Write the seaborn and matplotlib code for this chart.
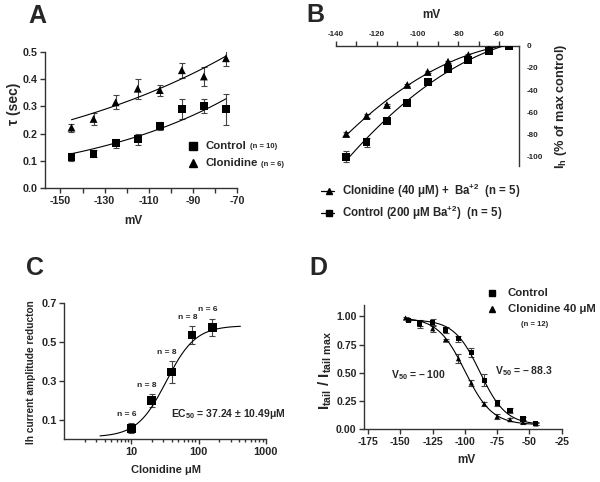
import numpy as np
import pandas as pd
import matplotlib
matplotlib.use("Agg")
import matplotlib.pyplot as plt
import seaborn as sns
from matplotlib.lines import Line2D
from matplotlib.ticker import FixedLocator, NullFormatter, LogLocator

# ---------------- data ----------------
# Panel A: activation time constant
a_mv = [-145, -135, -125, -115, -105, -95, -85, -75]
a_ctrl = [0.114, 0.126, 0.164, 0.179, 0.229, 0.290, 0.300, 0.289]
a_ctrl_err = [0.015, 0.013, 0.016, 0.020, 0.014, 0.038, 0.026, 0.057]
a_clon = [0.222, 0.254, 0.315, 0.365, 0.360, 0.433, 0.410, 0.477]
a_clon_err = [0.015, 0.023, 0.026, 0.036, 0.020, 0.028, 0.034, 0.029]
a_fit_ctrl = [0.126, 0.328]   # exponential fit value at -145 and -75 mV
a_fit_clon = [0.251, 0.485]

# Panel B: Ih (% of max control)
b_mv = [-135, -125, -115, -105, -95, -85, -75, -65, -55]
b_clon = [-79.6, -63.4, -53.5, -35.4, -23.7, -14.4, -8.4, -2.5, 0.0]
b_clon_err = [1.5, 1.5, 1.0, 1.0, 1.0, 1.0, 1.0, 1.0, 0.5]
b_ctrl = [-100.0, -87.0, -67.6, -52.0, -33.0, -21.0, -12.6, -4.5, -0.3]
b_ctrl_err = [5.0, 4.0, 1.5, 1.5, 1.5, 1.5, 1.5, 1.0, 0.5]

# Panel C: dose response
c_conc = [10, 20, 40, 80, 160]
c_red = [0.056, 0.198, 0.346, 0.536, 0.576]
c_err = [0.026, 0.035, 0.057, 0.046, 0.045]
c_n = ["n = 6", "n = 8", "n = 8", "n = 8", "n = 6"]
c_fit = [0.01, 0.585, 33.0, 2.0]   # bottom, top, EC50, Hill slope

# Panel D: activation curves
d_mv_ctrl = [-144, -135, -125, -115, -105, -95, -85, -75, -65, -55, -45]
d_ctrl = [0.964, 0.940, 0.943, 0.878, 0.800, 0.680, 0.435, 0.232, 0.167, 0.092, 0.054]
d_ctrl_err = [0.010, 0.030, 0.030, 0.025, 0.025, 0.040, 0.050, 0.025, 0.025, 0.020, 0.015]
d_mv_clon = [-146, -135, -125, -115, -105, -95, -85, -75, -65, -55, -45]
d_clon = [0.985, 0.930, 0.890, 0.790, 0.625, 0.410, 0.226, 0.113, 0.086, 0.063, 0.048]
d_clon_err = [0.005, 0.030, 0.030, 0.010, 0.040, 0.030, 0.020, 0.020, 0.015, 0.015, 0.010]
d_fit_ctrl = [0.97, 0.04, -88.3, 10.0]   # top, bottom, V50, slope
d_fit_clon = [0.99, 0.04, -100.0, 10.5]

# ---------------- style ----------------
sns.set_style("ticks")
plt.rcParams["font.family"] = ["Liberation Sans", "DejaVu Sans"]
plt.rcParams["font.weight"] = "bold"
plt.rcParams["axes.labelweight"] = "bold"
plt.rcParams["axes.unicode_minus"] = False
plt.rcParams["mathtext.fontset"] = "custom"
plt.rcParams["mathtext.rm"] = "Liberation Sans:bold"
plt.rcParams["mathtext.bf"] = "Liberation Sans:bold"
plt.rcParams["mathtext.it"] = "Liberation Sans:bold"
plt.rcParams["mathtext.default"] = "rm"

W, H = 600, 482
fig = plt.figure(figsize=(W / 100, H / 100), dpi=100)
fig.patch.set_facecolor("white")

AX_COL = "#333333"
EB_COL = "#444444"


def add_ax(l, t, r, b):
    return fig.add_axes([l / W, 1 - b / H, (r - l) / W, (b - t) / H])


def ftext(px, py, s, size, ha="center", va="center", rot=0, weight="bold"):
    return fig.text(px / W, 1 - py / H, s, fontsize=size, ha=ha, va=va,
                    rotation=rot, fontweight=weight)


def fmarker(px, py, marker, ms, line=None):
    if line is not None:
        fig.add_artist(Line2D([line[0] / W, line[1] / W], [1 - py / H] * 2,
                              transform=fig.transFigure, color="black", lw=0.9))
    fig.add_artist(Line2D([px / W], [1 - py / H], transform=fig.transFigure,
                          marker=marker, ms=ms, color="black", ls="none"))


def style_ax(ax, ticksize=7):
    for s in ax.spines.values():
        s.set_color(AX_COL)
        s.set_linewidth(1.0)
    ax.tick_params(which="both", direction="out", color=AX_COL, width=1.0,
                   labelsize=ticksize, pad=2)
    ax.tick_params(which="major", length=3.5)
    ax.tick_params(which="minor", length=3.5)
    ax.set_xlabel("")
    ax.set_ylabel("")


# ---------------- Panel A ----------------
axA = add_ax(45, 52, 237, 188)
dfA = pd.DataFrame({"mV": a_mv * 2, "tau": a_ctrl + a_clon,
                    "grp": ["Control"] * len(a_mv) + ["Clonidine"] * len(a_mv)})
axA.errorbar(a_mv, a_ctrl, yerr=a_ctrl_err, fmt="none", ecolor=EB_COL,
             elinewidth=0.8, capsize=2.2, capthick=0.8, zorder=2)
axA.errorbar(a_mv, a_clon, yerr=a_clon_err, fmt="none", ecolor=EB_COL,
             elinewidth=0.8, capsize=2.2, capthick=0.8, zorder=2)
xs = np.linspace(a_mv[0], a_mv[-1], 100)
for fit in (a_fit_ctrl, a_fit_clon):
    ys = fit[0] * (fit[1] / fit[0]) ** ((xs - xs[0]) / (xs[-1] - xs[0]))
    axA.plot(xs, ys, color="black", lw=0.8, zorder=3)
sns.scatterplot(data=dfA, x="mV", y="tau", style="grp", markers={"Control": "s", "Clonidine": "^"},
                color="black", s=32, edgecolor="none", legend=False, ax=axA, zorder=4)
axA.set_xlim(-157, -70)
axA.set_ylim(0, 0.5)
axA.set_xticks([-150, -130, -110, -90, -70])
axA.xaxis.set_minor_locator(FixedLocator([-140, -120, -100, -80]))
axA.set_yticks([0.0, 0.1, 0.2, 0.3, 0.4, 0.5])
axA.set_yticklabels(["0.0", "0.1", "0.2", "0.3", "0.4", "0.5"])
sns.despine(ax=axA)
style_ax(axA, 7.7)

ftext(37, 16, "A", 18)
ftext(133, 221, "mV", 8.5)
ftext(14, 104, "τ (sec)", 10, rot=90)
fmarker(193, 146, "s", 5.5)
fmarker(193, 163, "^", 6)
t1 = ftext(206, 146, "Control", 8.2, ha="left")
t2 = ftext(206, 163, "Clonidine", 8.2, ha="left")

# ---------------- Panel B ----------------
axB = add_ax(336, 45.7, 519.3, 166)
dfB = pd.DataFrame({"mV": b_mv * 2, "Ih": b_clon + b_ctrl,
                    "grp": ["Clon"] * len(b_mv) + ["Ctrl"] * len(b_mv)})
axB.errorbar(b_mv, b_ctrl, yerr=b_ctrl_err, fmt="none", ecolor=EB_COL,
             elinewidth=0.8, capsize=2.2, capthick=0.8, zorder=2)
axB.errorbar(b_mv, b_clon, yerr=b_clon_err, fmt="none", ecolor=EB_COL,
             elinewidth=0.8, capsize=2.2, capthick=0.8, zorder=2)
xb = np.linspace(b_mv[0], -57, 100)
for vals in (b_clon, b_ctrl):
    coef = np.polyfit(b_mv, vals, 2)
    axB.plot(xb, np.polyval(coef, xb), color="black", lw=0.8, zorder=3)
sns.scatterplot(data=dfB, x="mV", y="Ih", style="grp", markers={"Clon": "^", "Ctrl": "s"},
                color="black", s=32, edgecolor="none", legend=False, ax=axB, zorder=4)
axB.set_xlim(-140, -50)
axB.set_ylim(-108.5, 0)
axB.xaxis.tick_top()
axB.yaxis.tick_right()
axB.set_xticks([-140, -120, -100, -80, -60])
axB.xaxis.set_minor_locator(FixedLocator([-130, -110, -90, -70]))
axB.set_yticks([0, -20, -40, -60, -80, -100])
axB.set_yticklabels(["0", "-20", "-40", "-60", "-80", "-100"])
sns.despine(ax=axB, left=True, bottom=True, top=False, right=False)
style_ax(axB, 5.8)
axB.spines["top"].set_position(("data", 0))

ftext(315, 15, "B", 18)
ftext(431.7, 15, "mV", 8.5)
ftext(561, 106, r"I$_{\mathregular{h}}$ (% of max control)", 9.2, rot=90)
fmarker(329, 191, "^", 5, line=(321, 334))
fmarker(329, 213, "s", 4.5, line=(321, 334))
ftext(341.7, 191, r"Clonidine (40 μM) +  Ba$^{+2}$  (n = 5)", 8.3, ha="left")
ftext(341.7, 213, r"Control (200 μM Ba$^{+2}$)  (n = 5)", 8.3, ha="left")

# ---------------- Panel C ----------------
axC = add_ax(64.3, 303.3, 265.7, 439)
dfC = pd.DataFrame({"conc": c_conc, "red": c_red})
axC.errorbar(c_conc, c_red, yerr=c_err, fmt="none", ecolor=EB_COL,
             elinewidth=0.8, capsize=2.5, capthick=0.8, zorder=2)
xc = np.logspace(np.log10(3.4), np.log10(420), 200)
bot, top, ec50, hill = c_fit
axC.plot(xc, bot + (top - bot) / (1 + (ec50 / xc) ** hill), color="black", lw=0.8, zorder=3)
sns.scatterplot(data=dfC, x="conc", y="red", marker="s", color="black", s=40,
                edgecolor="none", legend=False, ax=axC, zorder=4)
axC.set_xscale("log")
axC.set_xlim(1, 1000)
axC.set_ylim(0, 0.7)
axC.set_xticks([10, 100, 1000])
axC.set_xticklabels(["10", "100", "1000"])
axC.xaxis.set_minor_locator(LogLocator(base=10, subs=np.arange(2, 10)))
axC.xaxis.set_minor_formatter(NullFormatter())
axC.set_yticks([0.1, 0.3, 0.5, 0.7])
axC.set_yticklabels(["0.1", "0.3", "0.5", "0.7"])
sns.despine(ax=axC)
style_ax(axC, 7.9)
axC.tick_params(which="minor", length=2.5)
for x, y, e, lab in zip(c_conc, c_red, c_err, c_n):
    axC.text(x * 0.85, y + e + 0.045, lab, fontsize=6, ha="center", va="center")
axC.text(39, 0.13, r"EC$_{50}$ = 37.24 ± 10.49μM", fontsize=7.5, ha="left", va="center")

ftext(35, 268, "C", 18)
ftext(166, 470, "Clonidine μM", 8)
ftext(31, 372, "Ih current amplitude reducton", 7.3, rot=90)

# ---------------- Panel D ----------------
axD = add_ax(364.3, 305, 561.7, 429.3)
dfD = pd.DataFrame({"mV": d_mv_ctrl + d_mv_clon, "I": d_ctrl + d_clon,
                    "grp": ["Control"] * len(d_ctrl) + ["Clon"] * len(d_clon)})
axD.errorbar(d_mv_ctrl, d_ctrl, yerr=d_ctrl_err, fmt="none", ecolor=EB_COL,
             elinewidth=0.8, capsize=2.0, capthick=0.8, zorder=2)
axD.errorbar(d_mv_clon, d_clon, yerr=d_clon_err, fmt="none", ecolor=EB_COL,
             elinewidth=0.8, capsize=2.0, capthick=0.8, zorder=2)
for fit, mvs in ((d_fit_ctrl, d_mv_ctrl), (d_fit_clon, d_mv_clon)):
    tp, bt, v50, k = fit
    xd = np.linspace(mvs[0], mvs[-1], 200)
    axD.plot(xd, bt + (tp - bt) / (1 + np.exp((xd - v50) / k)), color="black", lw=0.8, zorder=3)
sns.scatterplot(data=dfD, x="mV", y="I", style="grp", markers={"Control": "s", "Clon": "^"},
                color="black", s=14, edgecolor="none", legend=False, ax=axD, zorder=4)
axD.set_xlim(-178, -25)
axD.set_ylim(0, 1.1)
axD.set_xticks([-175, -150, -125, -100, -75, -50, -25])
axD.set_yticks([0, 0.25, 0.5, 0.75, 1.0])
axD.set_yticklabels(["0.00", "0.25", "0.50", "0.75", "1.00"])
sns.despine(ax=axD)
style_ax(axD, 7.6)
axD.text(-157, 0.48, r"V$_{50}$ = – 100", fontsize=7.5, ha="left", va="center")
axD.text(-77, 0.515, r"V$_{50}$ = – 88.3", fontsize=7.5, ha="left", va="center")

ftext(318, 268, "D", 18)
ftext(466.7, 460, "mV", 8.5)
ftext(325, 370, r"I$_{\mathregular{tail}}$ / I$_{\mathregular{tail\ max}}$", 11, rot=90)
fmarker(491.7, 293.3, "s", 4)
fmarker(491.7, 309.3, "^", 4.5)
ftext(508, 293.3, "Control", 8.2, ha="left")
ftext(508, 309.3, "Clonidine 40 μM", 8.2, ha="left")
ftext(535, 325, "(n = 12)", 5.5)

# small "(n = ..)" after legend words in panel A
fig.canvas.draw()
r = fig.canvas.get_renderer()
for t, s in ((t1, "(n = 10)"), (t2, "(n = 6)")):
    bb = t.get_window_extent(r)
    ftext(bb.x1 + 3, H - (bb.y0 + bb.y1) / 2 + 1, s, 5.5, ha="left")

fig.savefig("out.png", dpi=100, facecolor="white")
